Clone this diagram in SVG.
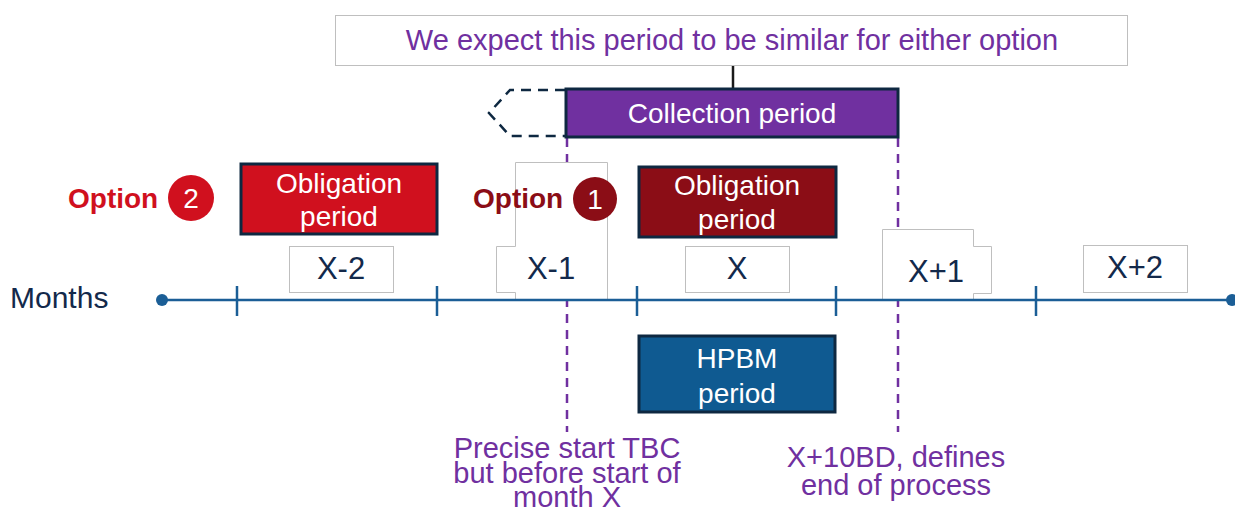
<svg xmlns="http://www.w3.org/2000/svg" width="1235" height="509" viewBox="0 0 1235 509">
  <style>
    text { font-family: "Liberation Sans", Arial, sans-serif; }
    .lbl { fill: #ffffff; stroke: #bfbfbf; stroke-width: 1; }
    .mon { font-size: 31px; fill: #13294b; text-anchor: middle; }
    .bar { stroke: #0e2841; stroke-width: 3; }
    .wt { font-size: 28px; fill: #ffffff; text-anchor: middle; }
    .pur { font-size: 29px; fill: #7030a0; text-anchor: middle; }
    .axis { stroke: #1b5e96; stroke-width: 2.5; fill: none; }
    .vdash { stroke: #7030a0; stroke-width: 2.5; stroke-dasharray: 9 7; fill: none; }
    .opt { font-size: 28px; font-weight: bold; }
  </style>

  <!-- top note -->
  <g id="note">
    <rect x="335.5" y="15.5" width="792" height="50" class="lbl"/>
    <text x="732" y="50" class="pur">We expect this period to be similar for either option</text>
  </g>

  <g id="connectors">
    <line x1="733" y1="66" x2="733" y2="88" stroke="#1a1a1a" stroke-width="2.5"/>
    <line x1="567" y1="138" x2="567" y2="432" class="vdash"/>
    <line x1="898" y1="138" x2="898" y2="432" class="vdash"/>
    <path d="M565,90 H510 L489,113 L510,136 H565" fill="none" stroke="#0e2841" stroke-width="2.5" stroke-dasharray="10 7"/>
  </g>

  <!-- month labels -->
  <g id="month-x-2">
    <rect x="289.5" y="246.5" width="104" height="46" class="lbl"/>
    <text x="341" y="279" class="mon">X-2</text>
  </g>
  <g id="month-x-1">
    <path d="M515.5,162.5 H607.5 V300 H515.5 V292.5 H496.5 V246.5 H515.5 Z" class="lbl"/>
    <text x="551" y="279" class="mon">X-1</text>
  </g>
  <g id="month-x">
    <rect x="685.5" y="246.5" width="104" height="46" class="lbl"/>
    <text x="737" y="279" class="mon">X</text>
  </g>
  <g id="month-x+1">
    <path d="M882.5,300 V229.5 H973.5 V246.5 H991.5 V293.5 H973.5 V300 Z" class="lbl"/>
    <text x="936" y="282" class="mon">X+1</text>
  </g>
  <g id="month-x+2">
    <rect x="1083.5" y="245.5" width="104" height="47" class="lbl"/>
    <text x="1135" y="278" class="mon">X+2</text>
  </g>

  <!-- timeline axis -->
  <g id="axis">
    <line x1="162" y1="300" x2="1232" y2="300" class="axis"/>
    <circle cx="162" cy="300" r="6" fill="#1b5e96"/>
    <circle cx="1232" cy="300" r="6" fill="#1b5e96"/>
    <g class="axis">
      <line x1="237" y1="286" x2="237" y2="316"/>
      <line x1="437" y1="286" x2="437" y2="316"/>
      <line x1="637" y1="286" x2="637" y2="316"/>
      <line x1="836" y1="286" x2="836" y2="316"/>
      <line x1="1036" y1="286" x2="1036" y2="316"/>
    </g>
    <text x="10" y="308" font-size="30" fill="#13294b">Months</text>
  </g>

  <!-- collection period -->
  <g id="collection">
    <rect x="566" y="89" width="332" height="48" fill="#7030a0" class="bar"/>
    <text x="732" y="123" class="wt" font-size="29">Collection period</text>
  </g>

  <!-- option 2 -->
  <g id="option-2">
    <text x="68" y="208" class="opt" fill="#d0101e">Option</text>
    <circle cx="191" cy="198" r="23" fill="#d0101e"/>
    <text x="191" y="208" class="wt">2</text>
  </g>
  <g id="obligation-2">
    <rect x="241" y="164" width="196" height="70" fill="#d0101e" class="bar"/>
    <text x="339" y="193" class="wt">Obligation</text>
    <text x="339" y="226" class="wt">period</text>
  </g>

  <!-- option 1 -->
  <g id="option-1">
    <text x="473" y="208" class="opt" fill="#8b0d16">Option</text>
    <circle cx="595" cy="199" r="22" fill="#8b0d16"/>
    <text x="595" y="209" class="wt">1</text>
  </g>
  <g id="obligation-1">
    <rect x="639" y="167" width="197" height="70" fill="#8b0d16" class="bar"/>
    <text x="737" y="195" class="wt">Obligation</text>
    <text x="737" y="229" class="wt">period</text>
  </g>

  <!-- HPBM -->
  <g id="hpbm">
    <rect x="639" y="336" width="196" height="76" fill="#0f5a91" class="bar"/>
    <text x="737" y="368" class="wt">HPBM</text>
    <text x="737" y="403" class="wt">period</text>
  </g>

  <!-- annotations -->
  <g id="start-note">
    <text x="567" y="458" class="pur">Precise start TBC</text>
    <text x="567" y="483" class="pur">but before start of</text>
    <text x="567" y="507" class="pur">month X</text>
  </g>
  <g id="end-note">
    <text x="896" y="467" class="pur">X+10BD, defines</text>
    <text x="896" y="495" class="pur">end of process</text>
  </g>
</svg>
